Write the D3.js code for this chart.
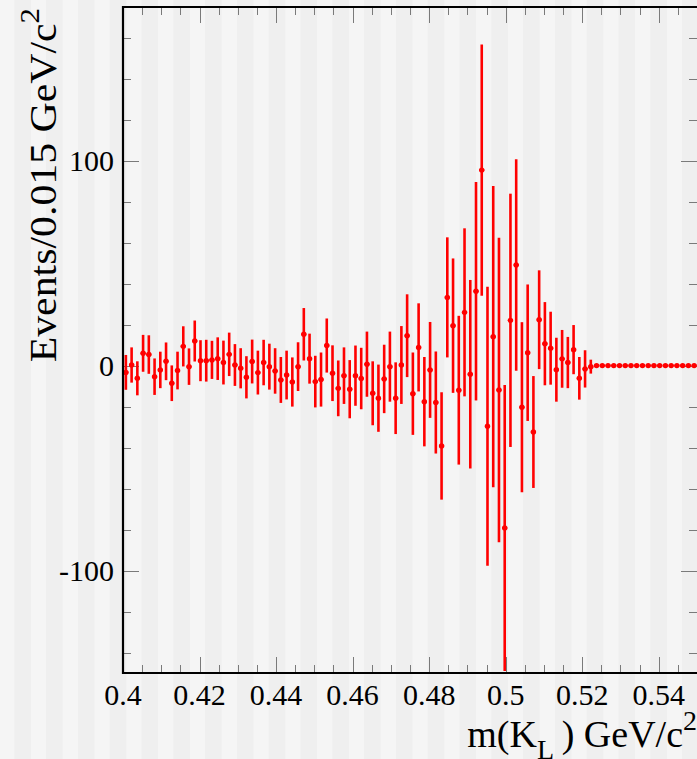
<!DOCTYPE html>
<html>
<head>
<meta charset="utf-8">
<script src="https://cdn.jsdelivr.net/npm/d3@7"></script>
<style>
  body { margin: 0; background: #f5f5f5; }
  svg { display: block; }
</style>
</head>
<body>
<svg id="plot" width="697" height="759"></svg>
<script>
// histogram binning: 100 bins of 0.0015 GeV/c^2 from 0.4 to 0.55
const binLow = 0.4;
const binWidth = 0.0015;

// bin contents
const counts = [
  -3.3, 0.3, -6.2, 6.0, 5.4, -5.4, -2.1, 2.1, -8.6, -2.4,
  9.4, -0.5, 12.0, 2.4, 2.4, 2.8, 3.4, 1.5, 5.5, 0.3,
  -1.3, -5.7, 2.0, -3.4, 1.5, -0.5, -2.6, -7.0, -4.6, -8.0,
  -0.5, 15.3, 3.4, -7.8, -6.8, 9.8, -3.7, -11.1, -4.9, -11.5,
  -4.9, -6.3, 0.7, -13.5, -15.9, -6.5, -0.5, -15.9, 0.3, 14.6,
  -13.7, 8.9, -17.6, -2.1, -18.0, -39.2, 33.3, 19.5, -12.0, 26.0,
  -4.2, 36.3, 95.4, -29.6, 14.1, -11.9, -79.2, 22.1, 49.1, -20.3,
  6.3, -32.4, 22.4, 10.7, 8.5, -2.0, 3.3, 1.5, 7.8, -6.2,
  -1.6, -0.5, 0, 0, 0, 0, 0, 0, 0, 0,
  0, 0, 0, 0, 0, 0, 0, 0, 0, 0
];

// symmetric errors per bin
const errors = [
  8.5, 8.6, 8.3, 9.0, 9.4, 8.9, 8.9, 9.2, 8.7, 9.2,
  9.8, 8.9, 10.0, 10.0, 10.2, 9.3, 10.4, 10.7, 10.6, 10.2,
  9.8, 10.3, 10.7, 10.7, 11.1, 11.2, 11.1, 11.2, 11.9, 12.0,
  11.9, 12.8, 12.2, 12.6, 13.2, 13.2, 13.6, 13.6, 13.8, 14.2,
  14.7, 15.0, 15.9, 15.6, 16.4, 16.7, 17.1, 17.5, 19.0, 20.2,
  20.1, 21.5, 21.8, 23.4, 24.9, 26.2, 29.3, 32.8, 36.3, 41.0,
  46.0, 53.3, 61.3, 68.1, 73.5, 74.3, 69.8, 61.8, 51.6, 41.5,
  33.3, 27.3, 24.1, 20.3, 17.8, 15.6, 14.1, 12.5, 12.0, 10.4,
  9.1, 3.4, 0, 0, 0, 0, 0, 0, 0, 0,
  0, 0, 0, 0, 0, 0, 0, 0, 0, 0
];

const xTicksMajor = [0.4, 0.42, 0.44, 0.46, 0.48, 0.5, 0.52, 0.54];
const yTicksMajor = [-100, 0, 100];
const xLabel = "m(K";
const yLabel = "Events/0.015 GeV/c";

const W = 697, H = 759;
const frame = { left: 123, right: 697, top: 7, bottom: 673 };
const FONT = "Liberation Serif";

const svg = d3.select("#plot");

// striped background
const bg = svg.append("g");
bg.append("rect").attr("width", W).attr("height", H).attr("fill", "#f5f5f5");
bg.selectAll("rect.stripe")
  .data(d3.range(14.3, W, 31.8))
  .enter().append("rect")
  .attr("class", "stripe")
  .attr("x", d => d)
  .attr("y", 0)
  .attr("width", 16.6)
  .attr("height", H)
  .attr("fill", "#efefef");

const x = d3.scaleLinear().domain([0.4, 0.55]).range([frame.left, frame.right]);
const y = d3.scaleLinear().domain([-150, 175]).range([frame.bottom, frame.top]);

const data = counts.map((c, i) => ({
  x: binLow + (i + 0.5) * binWidth,
  v: c,
  e: errors[i]
}));

svg.append("defs").append("clipPath").attr("id", "clip")
  .append("rect")
  .attr("x", frame.left).attr("y", frame.top)
  .attr("width", frame.right - frame.left + 5)
  .attr("height", frame.bottom - frame.top);

// ticks
const ticks = svg.append("g").attr("stroke", "#7a7a7a").attr("stroke-width", 1);
const xMinor = d3.range(0.4, 0.5501, 0.005);
const yMinor = d3.range(-140, 175, 20);
const isMajX = v => xTicksMajor.some(t => Math.abs(t - v) < 1e-6);
const isMajY = v => yTicksMajor.includes(Math.round(v));

xMinor.forEach(v => {
  const len = isMajX(v) ? 16 : 8;
  const px = Math.round(x(v)) + 0.5;
  ticks.append("line").attr("x1", px).attr("x2", px)
    .attr("y1", frame.bottom).attr("y2", frame.bottom - len);
  ticks.append("line").attr("x1", px).attr("x2", px)
    .attr("y1", frame.top).attr("y2", frame.top + len);
});
yMinor.forEach(v => {
  const len = isMajY(v) ? 16 : 8;
  const py = Math.round(y(v)) + 0.5;
  ticks.append("line").attr("x1", frame.left).attr("x2", frame.left + len)
    .attr("y1", py).attr("y2", py);
  ticks.append("line").attr("x1", frame.right).attr("x2", frame.right - len)
    .attr("y1", py).attr("y2", py);
});

// data points with error bars
const pts = svg.append("g").attr("clip-path", "url(#clip)");
pts.selectAll("line.ey")
  .data(data.filter(d => d.e > 0))
  .enter().append("line")
  .attr("x1", d => x(d.x)).attr("x2", d => x(d.x))
  .attr("y1", d => y(d.v - d.e)).attr("y2", d => y(d.v + d.e))
  .attr("stroke", "#ff0000").attr("stroke-width", 2.6);
pts.selectAll("line.ex")
  .data(data)
  .enter().append("line")
  .attr("x1", d => x(d.x - binWidth / 2) + 0.3).attr("x2", d => x(d.x + binWidth / 2) - 0.3)
  .attr("y1", d => y(d.v)).attr("y2", d => y(d.v))
  .attr("stroke", "#ff0000").attr("stroke-width", 1.8);
pts.selectAll("circle")
  .data(data)
  .enter().append("circle")
  .attr("cx", d => x(d.x)).attr("cy", d => y(d.v))
  .attr("r", 2.7)
  .attr("fill", "#ff0000");

// frame
svg.append("path")
  .attr("d", `M${frame.right + 3},${frame.top} H${frame.left} V${frame.bottom} H${frame.right + 3}`)
  .attr("fill", "none").attr("stroke", "#000").attr("stroke-width", 2.2);

// tick labels
svg.append("g").selectAll("text")
  .data(xTicksMajor)
  .enter().append("text")
  .attr("x", d => x(d)).attr("y", 705)
  .attr("text-anchor", "middle")
  .attr("font-family", FONT)
  .attr("font-size", 30)
  .text(d => String(+d.toFixed(2)));

svg.append("g").selectAll("text")
  .data(yTicksMajor)
  .enter().append("text")
  .attr("x", 114).attr("y", d => y(d) + 10)
  .attr("text-anchor", "end")
  .attr("font-family", FONT)
  .attr("font-size", 30)
  .text(d => d < 0 ? "-" + Math.abs(d) : String(d));

// axis titles
const xt = svg.append("text")
  .attr("x", 697).attr("y", 747)
  .attr("text-anchor", "end")
  .attr("font-family", FONT)
  .attr("font-size", 38);
xt.append("tspan").text(xLabel);
xt.append("tspan").attr("font-size", 28).attr("dy", 12).text("L");
xt.append("tspan").attr("dy", -12).text("\u2009) GeV/c");
xt.append("tspan").attr("font-size", 28).attr("dy", -17).text("2");

const yt = svg.append("text")
  .attr("transform", "translate(56,8) rotate(-90) scale(1.1,1)")
  .attr("text-anchor", "end")
  .attr("font-family", FONT)
  .attr("font-size", 38);
yt.append("tspan").text(yLabel);
yt.append("tspan").attr("font-size", 28).attr("dy", -17).text("2");
</script>
</body>
</html>
